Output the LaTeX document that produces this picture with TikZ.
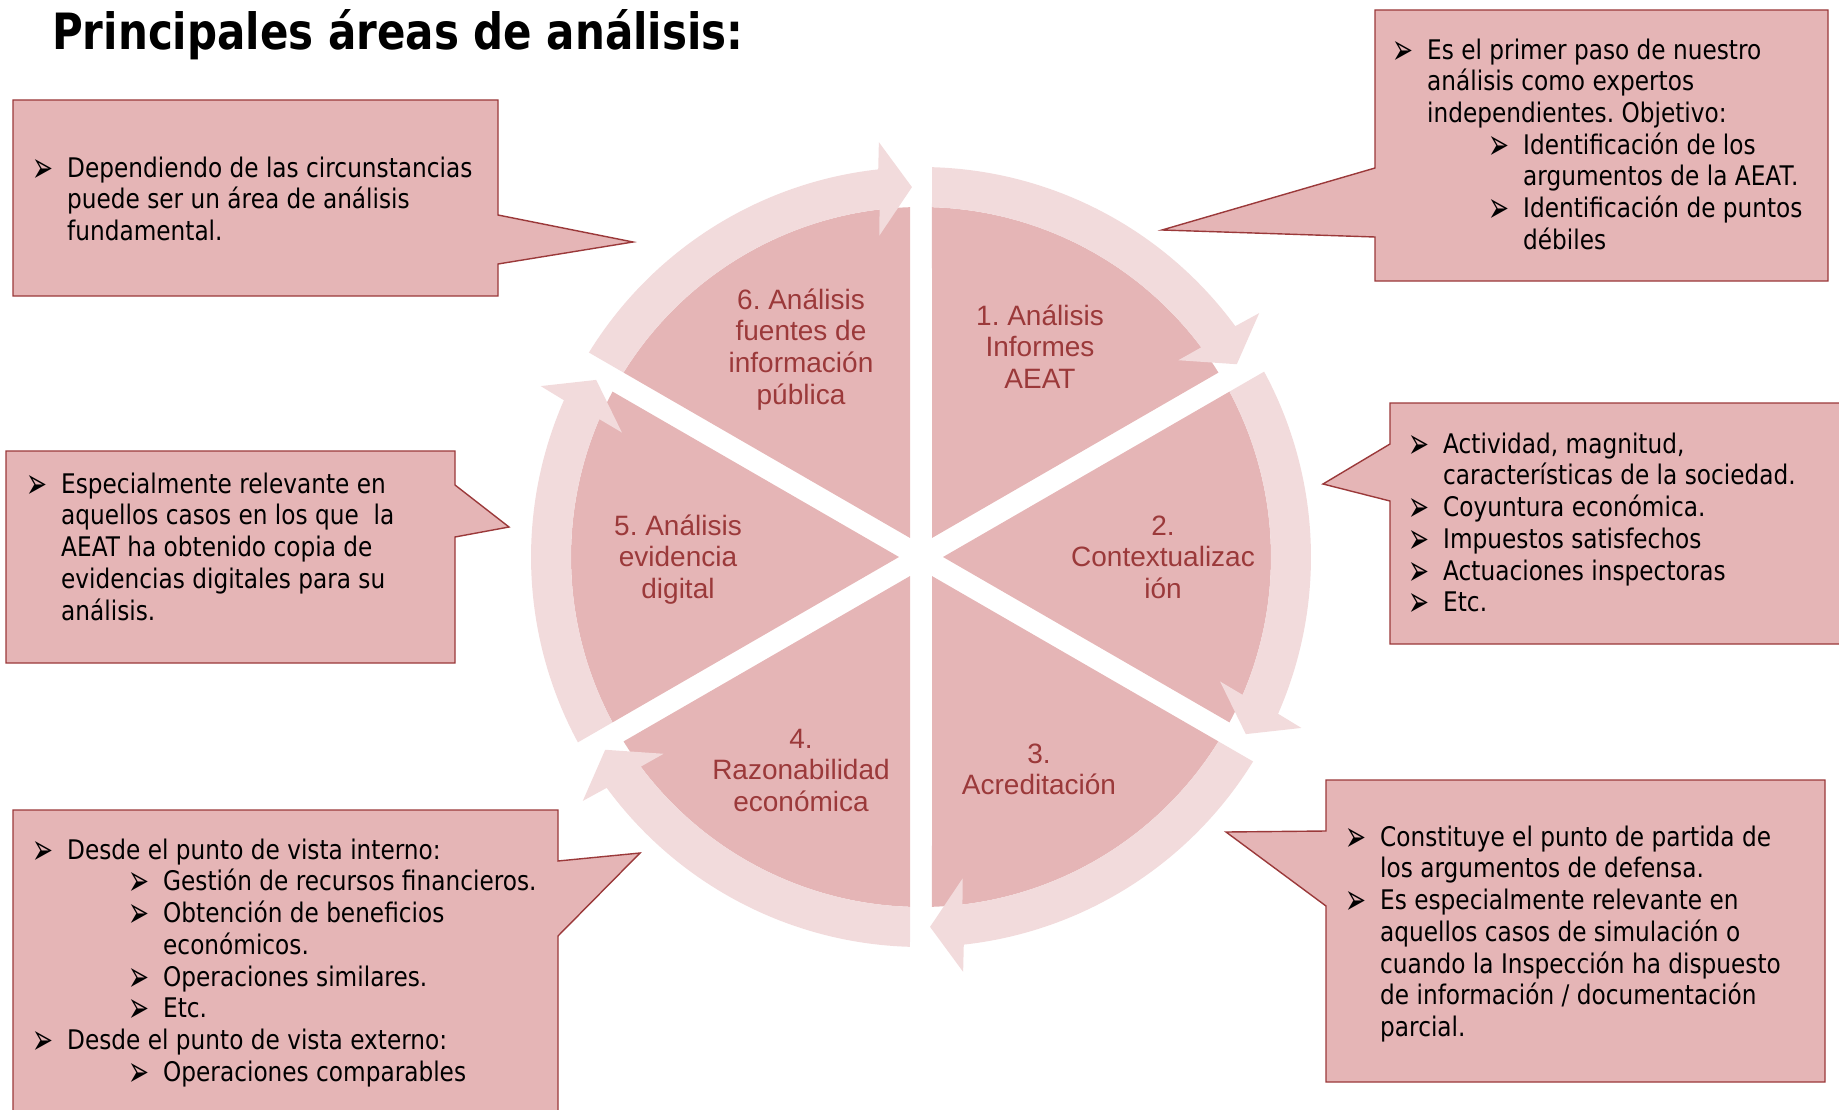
\documentclass[tikz,border=0pt]{standalone}
\usepackage{fontspec}
\setmainfont{Liberation Sans}
\newfontfamily\cajafont[FakeStretch=0.86]{DejaVu Sans}
\newfontfamily\titulofont[FakeStretch=0.84]{DejaVu Sans}
\usepackage{graphicx}
\usepackage{tikz}
\usetikzlibrary{calc}
\usepackage{xcolor}
\frenchspacing

\definecolor{rosa}{RGB}{229,181,182}
\definecolor{rosaclaro}{RGB}{242,219,220}
\definecolor{granate}{RGB}{155,57,58}

\newcommand{\flecha}{\makebox[35pt][l]{\raisebox{-5pt}[0pt][0pt]{\resizebox{21pt}{23pt}{➢}}}}
\newcommand{\sangria}{\hspace*{35pt}}
\newcommand{\subflecha}{\hspace*{96pt}\flecha}
\newcommand{\subsangria}{\hspace*{131pt}}
\newcommand{\arranque}{\rule{0pt}{26pt}}

\tikzset{
	caja/.style={fill=rosa, draw=granate, line width=1.4pt, line join=miter},
	textocaja/.style={anchor=north west, align=left, inner sep=0pt, font=\cajafont\fontsize{27}{31.7}\selectfont},
	textoarea/.style={anchor=north, align=center, inner sep=0pt, text=granate, font=\fontsize{28}{31.7}\selectfont},
	cuna/.style={fill=rosa},
	anillo/.style={fill=rosaclaro}
}

\begin{document}
\begin{tikzpicture}[x=1pt,y=1pt]
		\useasboundingbox (0,0) rectangle (1839,-1110);
		\clip (0,0) rectangle (1839,-1110);
		
		\node[anchor=base west, inner sep=0pt, font=\titulofont\bfseries\fontsize{50}{50}\selectfont] (titulo) at (52,-50) {Principales áreas de análisis:};
		
		% sectores y flechas del ciclo
		\begin{scope}[shift={(921,-557)}]
			\foreach \s in {90,30,-30,-90,-150,-210}{
				\pgfmathsetmacro{\e}{\s-60}
				\pgfmathsetmacro{\m}{\s-30}
				\fill[cuna] ({\m}:22) -- ({\e+1.8}:350) arc[start angle=\e+1.8, end angle=\s-1.8, radius=350] -- cycle;
			}
			\foreach \s in {90,30,-30,-90,-150,-210}{
				\pgfmathsetmacro{\e}{\s-60}
				\fill[anillo] ({\s-1.62}:390) arc[start angle=\s-1.62, end angle=\e+6.3, radius=390]
					-- ({\e+5.8}:417) -- ({\e+1.4}:370) -- ({\e+7.4}:324) -- ({\e+6.8}:350)
					arc[start angle=\e+6.8, end angle=\s-1.8, radius=350] -- cycle;
			}
		\end{scope}
		
		\node[textoarea] (area1) at (1040,-299) {\arranque 1. Análisis\\Informes\\AEAT};
		\node[textoarea] (area2) at (1163,-509) {\arranque 2.\\Contextualizac\\ión};
		\node[textoarea] (area3) at (1039,-737) {\arranque 3.\\Acreditación};
		\node[textoarea] (area4) at (801,-722) {\arranque 4.\\Razonabilidad\\económica};
		\node[textoarea] (area5) at (678,-509) {\arranque 5. Análisis\\evidencia\\digital};
		\node[textoarea] (area6) at (801,-283) {\arranque 6. Análisis\\fuentes de\\información\\pública};
		
		% llamadas
		\draw[caja] (13,-100) -- (498,-100) -- (498,-215) -- (633,-242) -- (498,-264) -- (498,-296) -- (13,-296) -- cycle;
		\draw[caja] (6,-451) -- (455,-451) -- (455,-485) -- (509,-527) -- (455,-537) -- (455,-663) -- (6,-663) -- cycle;
		\draw[caja] (13,-810) -- (558,-810) -- (558,-861) -- (640,-853) -- (558,-936) -- (558,-1130) -- (13,-1130) -- cycle;
		\draw[caja] (1375,-10) -- (1828,-10) -- (1828,-281) -- (1375,-281) -- (1375,-237) -- (1162,-230) -- (1375,-168) -- cycle;
		\draw[caja] (1390,-403) -- (1860,-403) -- (1860,-644) -- (1390,-644) -- (1390,-501) -- (1323,-484) -- (1390,-444) -- cycle;
		\draw[caja] (1326,-780) -- (1825,-780) -- (1825,-1082) -- (1326,-1082) -- (1326,-906) -- (1226,-832) -- (1326,-831) -- cycle;
		
		\node[textocaja] (notaA) at (32,-151) {\arranque\flecha Dependiendo de las circunstancias\\
			\sangria puede ser un área de análisis\\
			\sangria fundamental.};
		\node[textocaja] (notaB) at (26,-467) {\arranque\flecha Especialmente relevante en\\
			\sangria aquellos casos en los que\ \ la\\
			\sangria AEAT ha obtenido copia de\\
			\sangria evidencias digitales para su\\
			\sangria análisis.};
		\node[textocaja] (notaC) at (32,-833) {\arranque\flecha Desde el punto de vista interno:\\
			\subflecha Gestión de recursos financieros.\\
			\subflecha Obtención de beneficios\\
			\subsangria económicos.\\
			\subflecha Operaciones similares.\\
			\subflecha Etc.\\
			\flecha Desde el punto de vista externo:\\
			\subflecha Operaciones comparables};
		\node[textocaja] (notaD) at (1392,-33) {\arranque\flecha Es el primer paso de nuestro\\
			\sangria análisis como expertos\\
			\sangria independientes. Objetivo:\\
			\subflecha Identificación de los\\
			\subsangria argumentos de la AEAT.\\
			\subflecha Identificación de puntos\\
			\subsangria débiles};
		\node[textocaja] (notaE) at (1408,-427) {\arranque\flecha Actividad, magnitud,\\
			\sangria características de la sociedad.\\
			\flecha Coyuntura económica.\\
			\flecha Impuestos satisfechos\\
			\flecha Actuaciones inspectoras\\
			\flecha Etc.};
		\node[textocaja] (notaF) at (1345,-820) {\arranque\flecha Constituye el punto de partida de\\
			\sangria los argumentos de defensa.\\
			\flecha Es especialmente relevante en\\
			\sangria aquellos casos de simulación o\\
			\sangria cuando la Inspección ha dispuesto\\
			\sangria de información / documentación\\
			\sangria parcial.};
\end{tikzpicture}
\end{document}
